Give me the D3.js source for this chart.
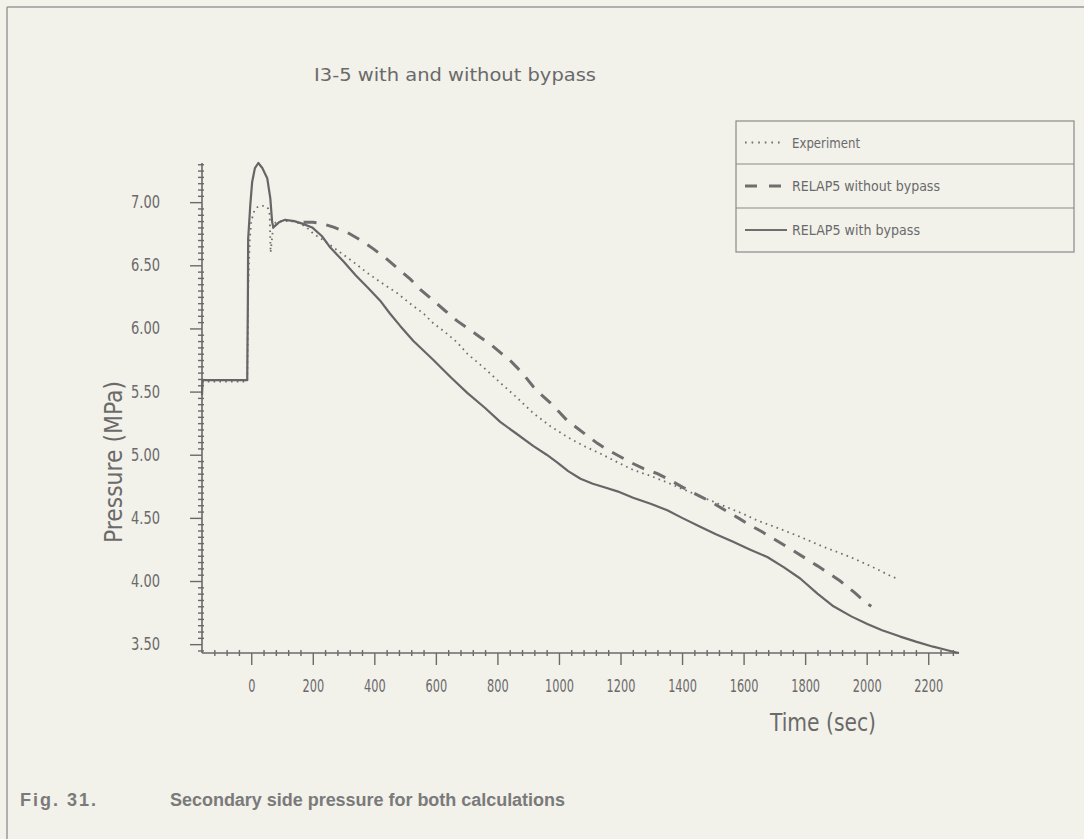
<!DOCTYPE html>
<html>
<head>
<meta charset="utf-8">
<script src="https://cdn.jsdelivr.net/npm/d3@7"></script>
<style>
  html, body { margin: 0; padding: 0; background: #f2f1ea; }
  svg { display: block; }
  .plot { font-family: 'DejaVu Sans', 'Liberation Sans', sans-serif; font-stretch: condensed; fill: #6a6a6a; }
</style>
</head>
<body>
<svg id="chart" width="1084" height="839"></svg>
<script>
// ---------- data ----------
const chartTitle = "I3-5 with and without bypass";
const xLabel = "Time (sec)";
const yLabel = "Pressure (MPa)";
const captionLabel = "Fig. 31.";
const captionText = "Secondary side pressure for both calculations";
const seriesNames = ["Experiment", "RELAP5 without bypass", "RELAP5 with bypass"];

const xTickValues = [0, 200, 400, 600, 800, 1000, 1200, 1400, 1600, 1800, 2000, 2200];
const xTickLabels = ["0", "200", "400", "600", "800", "1000", "1200", "1400", "1600", "1800", "2000", "2200"];
const yTickValues = [3.5, 4.0, 4.5, 5.0, 5.5, 6.0, 6.5, 7.0];
const yTickLabels = ["3.50", "4.00", "4.50", "5.00", "5.50", "6.00", "6.50", "7.00"];

// Experiment (dotted)
const timeExp = [-160, -13, -10, -5, 0, 10, 20, 30, 45, 55, 60, 63, 67, 72, 80, 100, 130, 160, 180, 202, 240, 279, 330, 377, 430, 474, 520, 559, 592, 630, 669, 702, 760, 809, 860, 916, 970, 1027, 1080, 1134, 1190, 1241, 1300, 1352, 1400, 1450, 1500, 1550, 1600, 1644, 1700, 1784, 1860, 1947, 2020, 2086, 2100];
const presExp = [5.58, 5.58, 6.30, 6.70, 6.85, 6.93, 6.96, 6.97, 6.97, 6.95, 6.90, 6.60, 6.70, 6.82, 6.84, 6.85, 6.85, 6.83, 6.80, 6.75, 6.69, 6.62, 6.53, 6.44, 6.35, 6.28, 6.19, 6.12, 6.04, 5.97, 5.89, 5.80, 5.68, 5.57, 5.46, 5.33, 5.23, 5.14, 5.07, 5.01, 4.94, 4.88, 4.83, 4.78, 4.73, 4.68, 4.63, 4.58, 4.53, 4.48, 4.43, 4.35, 4.27, 4.19, 4.11, 4.03, 4.02];

// RELAP5 without bypass (dashed)
const timeNoBypass = [170, 200, 231, 270, 312, 355, 397, 440, 474, 517, 549, 592, 630, 669, 710, 744, 780, 809, 840, 864, 890, 916, 945, 972, 1000, 1027, 1060, 1092, 1125, 1157, 1195, 1232, 1275, 1320, 1360, 1404, 1459, 1492, 1540, 1589, 1622, 1660, 1700, 1762, 1840, 1914, 1960, 2002, 2015];
const presNoBypass = [6.84, 6.84, 6.83, 6.80, 6.76, 6.70, 6.63, 6.55, 6.48, 6.39, 6.31, 6.22, 6.14, 6.06, 5.99, 5.93, 5.87, 5.81, 5.75, 5.69, 5.62, 5.54, 5.47, 5.41, 5.34, 5.27, 5.21, 5.15, 5.09, 5.04, 4.99, 4.94, 4.89, 4.85, 4.80, 4.74, 4.67, 4.63, 4.56, 4.49, 4.44, 4.39, 4.33, 4.24, 4.12, 4.00, 3.91, 3.82, 3.80];

// RELAP5 with bypass (solid)
const timeBypass = [-160, -158, -13, -11, -10, -3, 3, 12, 23, 36, 52, 62, 68, 72, 90, 110, 140, 166, 198, 230, 257, 300, 340, 380, 419, 450, 484, 527, 592, 650, 702, 760, 809, 860, 916, 960, 994, 1030, 1070, 1110, 1150, 1190, 1241, 1300, 1352, 1400, 1459, 1510, 1566, 1620, 1677, 1730, 1784, 1840, 1892, 1950, 2002, 2050, 2109, 2160, 2216, 2250, 2281, 2300];
const presBypass = [5.47, 5.59, 5.59, 6.20, 6.71, 6.98, 7.16, 7.27, 7.31, 7.27, 7.19, 7.03, 6.84, 6.80, 6.84, 6.86, 6.85, 6.83, 6.80, 6.73, 6.64, 6.53, 6.42, 6.32, 6.22, 6.12, 6.02, 5.90, 5.75, 5.61, 5.49, 5.37, 5.26, 5.17, 5.07, 5.00, 4.94, 4.87, 4.81, 4.77, 4.74, 4.71, 4.66, 4.61, 4.56, 4.50, 4.43, 4.37, 4.31, 4.25, 4.19, 4.11, 4.02, 3.90, 3.80, 3.72, 3.66, 3.61, 3.56, 3.52, 3.48, 3.46, 3.44, 3.43];

// ---------- drawing ----------
const ink = "#6a6a6a";
const svg = d3.select("#chart");

// page frame (scanned sheet border)
svg.append("line").attr("x1", 7).attr("x2", 1084).attr("y1", 7).attr("y2", 7).attr("stroke", "#9a9a9a").attr("stroke-width", 1.5);
svg.append("line").attr("x1", 7).attr("x2", 7).attr("y1", 7).attr("y2", 839).attr("stroke", "#9a9a9a").attr("stroke-width", 1.5);

const x = d3.scaleLinear().domain([-160, 2300]).range([202, 959]);
const y = d3.scaleLinear().domain([3.43, 7.31]).range([653, 163]);

const g = svg.append("g").attr("class", "plot");

// axes lines
g.append("line").attr("x1", x(-160)).attr("x2", x(2300)).attr("y1", y(3.43)).attr("y2", y(3.43)).attr("stroke", ink).attr("stroke-width", 1.6);
g.append("line").attr("x1", x(-160)).attr("x2", x(-160)).attr("y1", y(3.43)).attr("y2", y(7.31)).attr("stroke", ink).attr("stroke-width", 1.6);

// x ticks
const xMinor = d3.range(-120, 2300, 40).filter(v => v % 200 !== 0);
const xAxisMinor = d3.axisBottom(x).tickValues(xMinor).tickSize(6).tickFormat("");
const gxm = g.append("g").attr("transform", `translate(0,${y(3.43) - 3})`).call(xAxisMinor);
const xAxisMajor = d3.axisBottom(x).tickValues(xTickValues).tickSize(12).tickPadding(14)
  .tickFormat((d, i) => xTickLabels[i]);
const gx = g.append("g").attr("transform", `translate(0,${y(3.43)})`).call(xAxisMajor);

// y ticks
const yMinor = d3.range(3.45, 7.31, 0.05).filter(v => Math.abs(v * 2 - Math.round(v * 2)) > 1e-6);
const yAxisMinor = d3.axisLeft(y).tickValues(yMinor).tickSize(6).tickFormat("");
const gym = g.append("g").attr("transform", `translate(${x(-160) + 2},0)`).call(yAxisMinor);
const yAxisMajor = d3.axisLeft(y).tickValues(yTickValues).tickSize(12).tickPadding(30)
  .tickFormat((d, i) => yTickLabels[i]);
const gy = g.append("g").attr("transform", `translate(${x(-160)},0)`).call(yAxisMajor);

[gxm, gx, gym, gy].forEach(a => {
  a.select(".domain").remove();
  a.selectAll(".tick line").attr("stroke", ink).attr("stroke-width", 1.4);
  a.selectAll(".tick text").attr("fill", ink)
    .style("font-family", "'DejaVu Sans', sans-serif").style("font-stretch", "condensed")
    .style("font-size", "17px");
});
gx.selectAll(".tick text").attr("dy", "0.75em")
  .attr("textLength", (d, i) => xTickLabels[i].length * 7.2).attr("lengthAdjust", "spacingAndGlyphs");
gy.selectAll(".tick text").attr("textLength", 29).attr("lengthAdjust", "spacingAndGlyphs");

// lines
const line = d3.line().x(d => x(d[0])).y(d => y(d[1]));
const zip = (a, b) => a.map((v, i) => [v, b[i]]);

g.append("path").datum(zip(timeExp, presExp)).attr("d", line)
  .attr("fill", "none").attr("stroke", "#6e6e6e").attr("stroke-width", 1.8)
  .attr("stroke-dasharray", "1.6 4.2").attr("stroke-linecap", "butt");
g.append("path").datum(zip(timeNoBypass, presNoBypass)).attr("d", line)
  .attr("fill", "none").attr("stroke", "#6e6e6e").attr("stroke-width", 3)
  .attr("stroke-dasharray", "13 10");
g.append("path").datum(zip(timeBypass, presBypass)).attr("d", line)
  .attr("fill", "none").attr("stroke", "#666").attr("stroke-width", 2.2)
  .attr("stroke-linejoin", "round");

// title
g.append("text").attr("x", 455).attr("y", 81).attr("text-anchor", "middle")
  .attr("textLength", 282).attr("lengthAdjust", "spacingAndGlyphs")
  .style("font-size", "17px").text(chartTitle);

// axis labels
g.append("text").attr("x", 823).attr("y", 731).attr("text-anchor", "middle")
  .attr("textLength", 106).attr("lengthAdjust", "spacingAndGlyphs")
  .style("font-size", "25px").text(xLabel);
g.append("text").attr("transform", "translate(122,462) rotate(-90)").attr("text-anchor", "middle")
  .attr("textLength", 162).attr("lengthAdjust", "spacingAndGlyphs")
  .style("font-size", "24px").text(yLabel);

// legend
const lg = g.append("g");
const lx0 = 736, lx1 = 1074;
const rows = [121, 164, 208, 252];
lg.append("rect").attr("x", lx0).attr("y", rows[0]).attr("width", lx1 - lx0).attr("height", rows[3] - rows[0])
  .attr("fill", "none").attr("stroke", "#8a8a8a").attr("stroke-width", 1.2);
[rows[1], rows[2]].forEach(ry => lg.append("line").attr("x1", lx0).attr("x2", lx1).attr("y1", ry).attr("y2", ry)
  .attr("stroke", "#8a8a8a").attr("stroke-width", 1.2));
const styles = [
  { w: 1.8, dash: "1.6 5", len: 36 },
  { w: 3, dash: "12 12", len: 36 },
  { w: 2.2, dash: null, len: 42 }
];
const textLens = [68, 148, 128];
seriesNames.forEach((name, i) => {
  const cy = (rows[i] + rows[i + 1]) / 2;
  const s = lg.append("line").attr("x1", 745).attr("x2", 745 + styles[i].len).attr("y1", cy).attr("y2", cy)
    .attr("stroke", "#6e6e6e").attr("stroke-width", styles[i].w);
  if (styles[i].dash) s.attr("stroke-dasharray", styles[i].dash);
  lg.append("text").attr("x", 792).attr("y", cy + 5).attr("textLength", textLens[i]).attr("lengthAdjust", "spacingAndGlyphs")
    .style("font-size", "14px").text(name);
});

// caption
const cap = svg.append("g")
  .style("font-family", "'Liberation Sans', Arial, sans-serif").style("font-weight", "bold")
  .style("font-size", "18px").attr("fill", "#7a7a7a");
cap.append("text").attr("x", 20).attr("y", 806)
  .attr("textLength", 76).attr("lengthAdjust", "spacing").text(captionLabel);
cap.append("text").attr("x", 170).attr("y", 806)
  .attr("textLength", 395).attr("lengthAdjust", "spacing").text(captionText);
</script>
</body>
</html>
